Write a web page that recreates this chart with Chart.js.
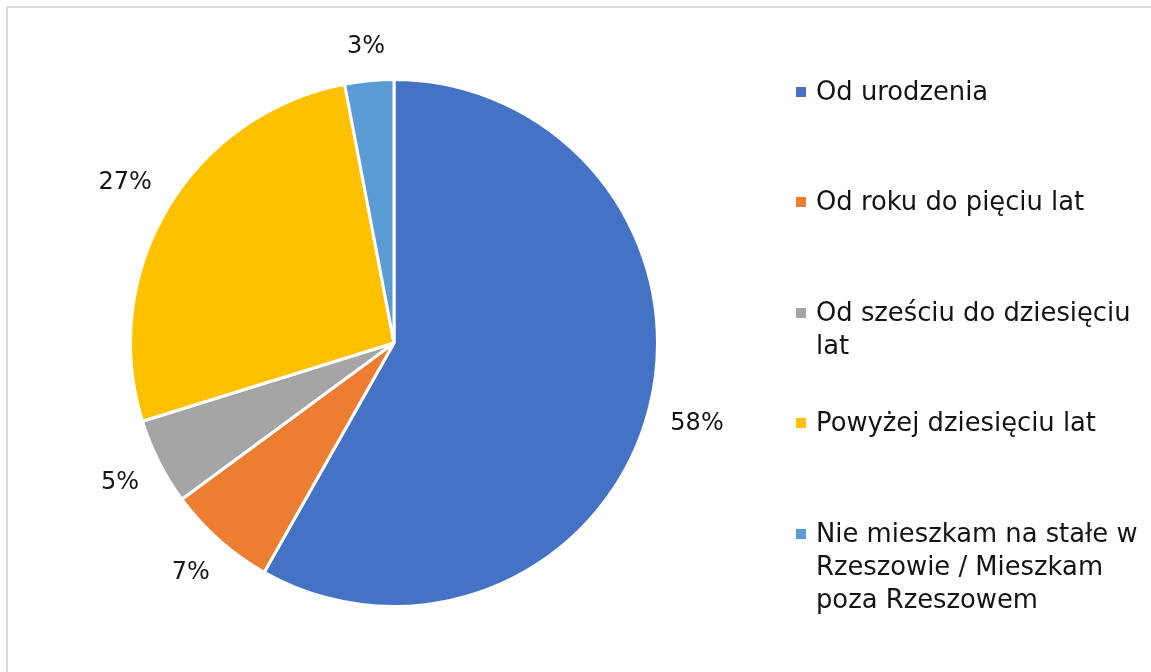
<!DOCTYPE html>
<html>
<head>
<meta charset="utf-8">
<script src="https://cdn.jsdelivr.net/npm/chart.js@4/dist/chart.umd.min.js"></script>
<style>
  html, body { margin: 0; padding: 0; width: 1151px; height: 672px; overflow: hidden; background: #fff; }
  #frame { position: absolute; left: 6px; top: 6px; width: 1170px; height: 700px; border: 2px solid #d9d9d9; box-sizing: border-box; }
  #c { position: absolute; left: 0; top: 0; }
  #legend { position: absolute; left: 0; top: 0; width: 1151px; height: 672px; font-family: "DejaVu Sans", sans-serif; font-size: 25.8px; line-height: 33px; color: #141414; }
  .item { position: absolute; left: 796px; }
  .mark { position: absolute; left: 0; top: 12px; width: 10px; height: 10px; }
  .txt { position: absolute; left: 20px; top: 0; width: 332px; white-space: normal; }
</style>
</head>
<body>
<div id="frame"></div>
<canvas id="c" width="1151" height="672"></canvas>
<div id="legend"></div>
<script>
const categories = [
  "Od urodzenia",
  "Od roku do pięciu lat",
  "Od sześciu do dziesięciu lat",
  "Powyżej dziesięciu lat",
  "Nie mieszkam na stałe w Rzeszowie / Mieszkam poza Rzeszowem"
];
const shares = [58.2, 6.7, 5.3, 26.8, 3.0];
const colors = ["#4472C4", "#ED7D31", "#A5A5A5", "#FFC000", "#5B9BD5"];

const outsideLabels = {
  id: 'outsideLabels',
  afterDatasetsDraw(chart) {
    const ctx = chart.ctx;
    const meta = chart.getDatasetMeta(0);
    const data = chart.data.datasets[0].data;
    const total = data.reduce((a, b) => a + b, 0);
    ctx.save();
    ctx.font = '24px "DejaVu Sans", sans-serif';
    ctx.fillStyle = '#141414';
    ctx.textAlign = 'center';
    ctx.textBaseline = 'middle';
    meta.data.forEach((arc, i) => {
      const p = arc.getProps(['x', 'y', 'startAngle', 'endAngle', 'outerRadius'], true);
      const mid = (p.startAngle + p.endAngle) / 2;
      const ux = Math.cos(mid), uy = Math.sin(mid);
      const txt = Math.round(data[i] / total * 100) + '%';
      const w = ctx.measureText(txt).width;
      const hw = w / 2, hh = 12;
      const ext = Math.abs(ux) * hw + Math.abs(uy) * hh;
      const d = p.outerRadius + 21 + ext;
      ctx.fillText(txt, p.x + ux * d, p.y + uy * d + 1);
    });
    ctx.restore();
  }
};

new Chart(document.getElementById('c'), {
  type: 'pie',
  data: {
    labels: categories,
    datasets: [{
      data: shares,
      backgroundColor: colors,
      borderColor: '#ffffff',
      borderWidth: 3
    }]
  },
  options: {
    responsive: false,
    animation: false,
    layout: { padding: { left: 129, top: 78, right: 492, bottom: 64 } },
    plugins: { legend: { display: false }, tooltip: { enabled: false } }
  },
  plugins: [outsideLabels]
});

const legend = document.getElementById('legend');
categories.forEach((name, i) => {
  const item = document.createElement('div');
  item.className = 'item';
  item.style.top = (74.5 + i * 110.5) + 'px';
  const m = document.createElement('div');
  m.className = 'mark';
  m.style.background = colors[i];
  const t = document.createElement('div');
  t.className = 'txt';
  t.textContent = name;
  item.appendChild(m);
  item.appendChild(t);
  legend.appendChild(item);
});
</script>
</body>
</html>
